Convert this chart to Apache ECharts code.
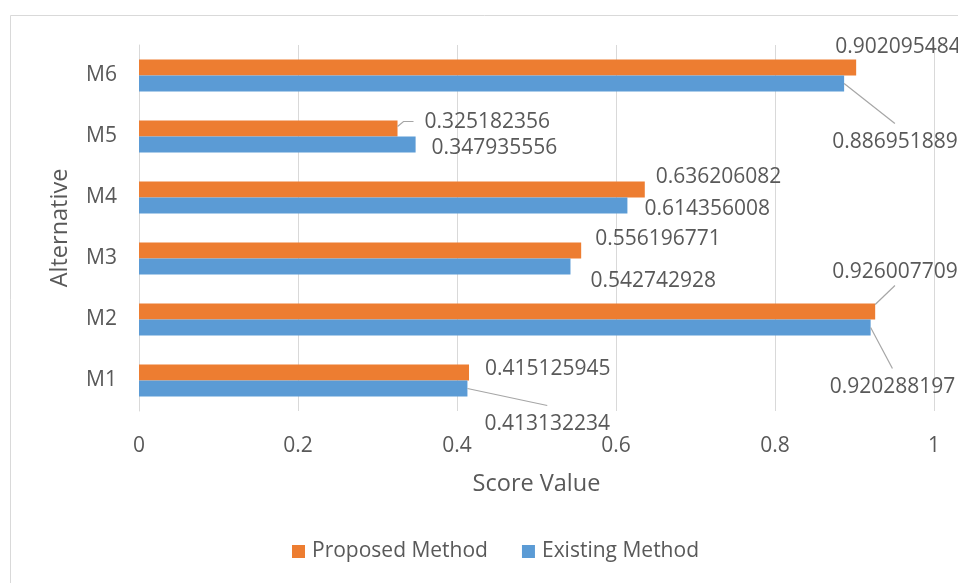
<!DOCTYPE html>
<html>
<head>
<meta charset="utf-8">
<style>
  html, body { margin: 0; padding: 0; background: #fff; }
  #chart { width: 958px; height: 583px; }
</style>
<script src="https://cdn.jsdelivr.net/npm/echarts@6/dist/echarts.min.js"></script>
</head>
<body>
<div id="chart"></div>
<script>
// Alternatives on the category axis, bottom to top
const categories = ['M1', 'M2', 'M3', 'M4', 'M5', 'M6'];
// Score values per alternative
const proposedValues = [0.415125945, 0.926007709, 0.556196771, 0.636206082, 0.325182356, 0.902095484];
const existingValues = [0.413132234, 0.920288197, 0.542742928, 0.614356008, 0.347935556, 0.886951889];
// Score axis ticks
const scoreMin = 0, scoreMax = 1, scoreStep = 0.2;

// Manual label placement (offset of the label's left/middle from the bar end)
const proposedLabelShift = [[16, -3], [-43, -39], [14, -11], [11, -12], [27, -6], [-21, -20]];
const existingLabelShift = [[17, 36], [-41, 60], [20, 15], [17, 4], [16, 4], [-12, 59]];
// Leader line kind per label: 'above' = label sits above the bar, 'below' = under it,
// 'side' = to the right with a short elbow, null = no leader line
const proposedLeader = [null, 'above', null, null, 'side', null];
const existingLeader = ['below', 'below', null, null, null, 'below'];

const FONT = 'Open Sans';
const FONT_SIZE = 21;
const TITLE_SIZE = 23.5;
const TEXT = '#595959';
const GRID = '#d9d9d9';
const LEADER = '#a6a6a6';
const BAR_W = 16;

function labelStyle() {
  return {
    show: true, position: 'right', distance: 0,
    fontFamily: FONT, fontSize: FONT_SIZE, color: TEXT,
    formatter: p => String(p.value)
  };
}

const chart = echarts.init(document.getElementById('chart'), null, { renderer: 'canvas' });

chart.setOption({
  animation: false,
  textStyle: { fontFamily: FONT, color: TEXT },
  graphic: [{
    id: 'frame',
    type: 'rect',
    shape: { x: 10.5, y: 15.5, width: 1000, height: 600 },
    style: { fill: 'none', stroke: GRID, lineWidth: 1 },
    silent: true,
    z: -1
  }],
  grid: { left: 139, right: 24, top: 45, bottom: 172, containLabel: false },
  legend: {
    data: ['Proposed Method', 'Existing Method'],
    bottom: 16,
    left: 287,
    icon: 'rect',
    itemWidth: 13,
    itemHeight: 13,
    itemGap: 34,
    textStyle: { fontFamily: FONT, fontSize: FONT_SIZE, color: TEXT, padding: [0, 0, 0, 2] }
  },
  xAxis: {
    type: 'value',
    min: scoreMin,
    max: scoreMax,
    interval: scoreStep,
    name: 'Score Value',
    nameLocation: 'middle',
    nameGap: 61,
    nameTextStyle: { fontFamily: FONT, fontSize: TITLE_SIZE, color: TEXT },
    axisLine: { show: false },
    axisTick: { show: false },
    axisLabel: { fontFamily: FONT, fontSize: FONT_SIZE, color: TEXT, margin: 25 },
    splitLine: { show: true, lineStyle: { color: GRID, width: 1 } }
  },
  yAxis: {
    type: 'category',
    data: categories,
    name: 'Alternative',
    nameLocation: 'middle',
    nameGap: 67,
    nameTextStyle: { fontFamily: FONT, fontSize: TITLE_SIZE, color: TEXT },
    axisLine: { show: true, lineStyle: { color: GRID, width: 1 } },
    axisTick: { show: false },
    axisLabel: { fontFamily: FONT, fontSize: FONT_SIZE, color: TEXT, margin: 22 }
  },
  series: [
    {
      name: 'Proposed Method',
      type: 'bar',
      data: proposedValues,
      barWidth: BAR_W,
      barGap: '0%',
      itemStyle: { color: '#ED7D31' },
      label: labelStyle(),
      labelLayout: p => ({ dx: proposedLabelShift[p.dataIndex][0], dy: proposedLabelShift[p.dataIndex][1] })
    },
    {
      name: 'Existing Method',
      type: 'bar',
      data: existingValues,
      barWidth: BAR_W,
      barGap: '0%',
      itemStyle: { color: '#5B9BD5' },
      label: labelStyle(),
      labelLayout: p => ({ dx: existingLabelShift[p.dataIndex][0], dy: existingLabelShift[p.dataIndex][1] })
    }
  ]
});

// Leader lines: routed from each bar end (found through the axes) to its shifted label
const measure = document.createElement('canvas').getContext('2d');
measure.font = FONT_SIZE + 'px "' + FONT + '"';

function leaderLines(values, shift, leader, side, prefix) {
  const out = [];
  values.forEach((v, i) => {
    const kind = leader[i];
    if (!kind) return;
    const [endX, bandY] = chart.convertToPixel({ gridIndex: 0 }, [v, i]);
    const barMid = bandY + side * BAR_W / 2;
    const barTop = barMid - BAR_W / 2;
    const lx = endX + shift[i][0];
    const cy = barMid + shift[i][1];
    const half = measure.measureText(String(v)).width / 2;
    let pts;
    if (kind === 'above') {
      pts = [[endX, barTop + 1], [lx + half, cy + 13]];
    } else if (kind === 'below') {
      pts = [[endX, barMid], [lx + half, cy - 19]];
    } else {
      pts = [[endX, barTop + 6], [lx - 21, cy - 1], [lx - 11, cy - 1]];
    }
    out.push({
      id: prefix + i,
      type: 'polyline',
      shape: { points: pts },
      style: { stroke: LEADER, lineWidth: 1.2, fill: null },
      silent: true,
      z: 10
    });
  });
  return out;
}

chart.setOption({
  graphic: [
    ...leaderLines(proposedValues, proposedLabelShift, proposedLeader, -1, 'lp'),
    ...leaderLines(existingValues, existingLabelShift, existingLeader, 1, 'le')
  ]
});
</script>
</body>
</html>
